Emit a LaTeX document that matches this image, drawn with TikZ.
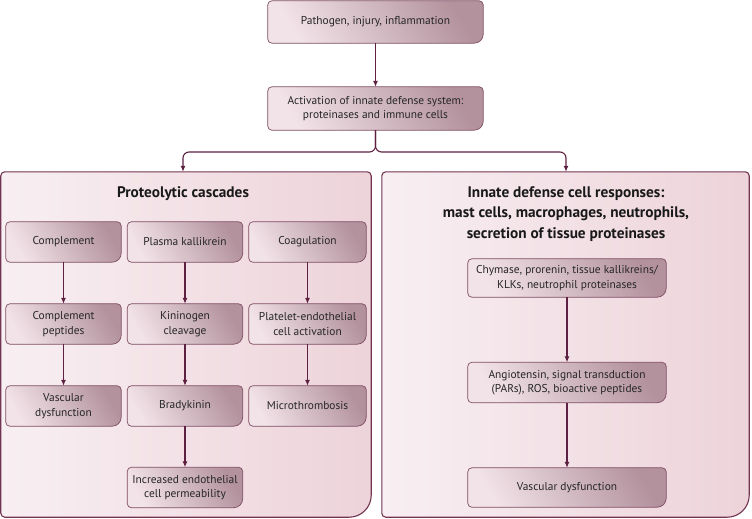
\documentclass[tikz,border=0pt]{standalone}
\usepackage{fontspec}
\setmainfont{PT Sans}
\usetikzlibrary{arrows.meta,calc,backgrounds}
\definecolor{edge}{HTML}{7E4C63}
\definecolor{panedge}{HTML}{733451}
\definecolor{arr}{HTML}{5E2040}
\definecolor{boxL}{HTML}{F2E3E8}
\definecolor{boxD}{HTML}{B3929D}
\definecolor{panL}{HTML}{F8EFF2}
\definecolor{panD}{HTML}{EDD3DA}

\newcommand\roundshape[4]{%
 \path[#4] ([xshift=#2]#1.north west) -- ([xshift=-#2]#1.north east)
   arc[start angle=90,end angle=0,radius=#2] -- ([yshift=#3]#1.south east)
   arc[start angle=0,end angle=-90,radius=#3] -- ([xshift=#2]#1.south west)
   arc[start angle=270,end angle=180,radius=#2] -- ([yshift=-#2]#1.north west)
   arc[start angle=180,end angle=90,radius=#2] -- cycle;}

\tikzset{
  boxnode/.style={inner sep=0pt, align=center, font=\fontsize{11.4}{14.5}\selectfont,
     minimum width=115pt, minimum height=40pt, text=black!85},
  panelnode/.style={inner sep=0pt, minimum width=#1, minimum height=345pt},
  boxfill/.style={draw=edge, line width=0.7pt, left color=boxL, right color=boxD, shading angle=120},
  panelfill/.style={draw=panedge, line width=1.1pt, left color=panL, right color=panD},
  flow/.style={draw=arr, line width=1.1pt, -{Latex[length=6pt,width=5pt]}},
  titletext/.style={align=center, font=\bfseries\fontsize{15.3}{20.5}\selectfont, text=black!90}
}

\begin{document}
\begin{tikzpicture}[x=1pt,y=1pt]
\useasboundingbox (0,0) rectangle (752,-519);

% panels
\node[panelnode=370pt] (LP) at (186,-344.5) {};
\node[panelnode=367pt] (RP) at (565.5,-344.5) {};
\node[titletext] (LT) at (183,-194) {Proteolytic cascades};
\node[titletext] (RT) at (566,-214) {Innate defense cell responses:\\mast cells, macrophages, neutrophils,\\secretion of tissue proteinases};

% top boxes
\node[boxnode, minimum width=215pt, minimum height=42pt] (path) at (375.5,-22) {Pathogen, injury, inflammation};
\node[boxnode, minimum width=215pt, minimum height=43pt] (act) at (375.5,-108.5) {Activation of innate defense system:\\proteinases and immune cells};

% left columns
\node[boxnode] (comp) at (63.5,-242) {Complement};
\node[boxnode] (pk) at (185,-242) {Plasma kallikrein};
\node[boxnode, minimum width=117pt] (coag) at (307.5,-242) {Coagulation};
\node[boxnode] (cpep) at (63.5,-324) {Complement\\peptides};
\node[boxnode] (kin) at (185,-324) {Kininogen\\cleavage};
\node[boxnode, minimum width=117pt] (plat) at (307.5,-324) {Platelet-endothelial\\cell activation};
\node[boxnode] (vd1) at (63.5,-406) {Vascular\\dysfunction};
\node[boxnode] (brad) at (185,-406) {Bradykinin};
\node[boxnode, minimum width=117pt] (micro) at (307.5,-406) {Microthrombosis};
\node[boxnode] (perm) at (185,-487.5) {Increased endothelial\\cell permeability};

% right column
\node[boxnode, minimum width=198pt, minimum height=38pt] (chy) at (567,-278) {Chymase, prorenin, tissue kallikreins/\\KLKs, neutrophil proteinases};
\node[boxnode, minimum width=198pt] (ang) at (567,-382.5) {Angiotensin, signal transduction\\(PARs), ROS, bioactive peptides};
\node[boxnode, minimum width=198pt, minimum height=39pt] (vd2) at (567,-487.5) {Vascular dysfunction};

\begin{scope}[on background layer]
  \roundshape{LP}{4pt}{22pt}{panelfill}
  \roundshape{RP}{4pt}{22pt}{panelfill}
  \foreach \n in {path,act,comp,pk,coag,cpep,kin,plat,vd1,brad,micro,perm,chy,ang,vd2}{
    \roundshape{\n}{4pt}{9pt}{boxfill}
  }
\end{scope}

% connectors
\coordinate (j) at (375.5,-152);
\draw[flow] (path) -- (act);
\draw[flow, rounded corners=6pt] (act.south) -- (j) -| (LP.north -| LT.center);
\draw[flow, rounded corners=6pt] (act.south) -- (j) -| (RP.north -| RT.center);
\draw[flow] (comp) -- (cpep);
\draw[flow] (cpep) -- (vd1);
\draw[flow] (pk) -- (kin);
\draw[flow] (kin) -- (brad);
\draw[flow] (brad) -- (perm);
\draw[flow] (coag) -- (plat);
\draw[flow] (plat) -- (micro);
\draw[flow] (chy) -- (ang);
\draw[flow] (ang) -- (vd2);
\end{tikzpicture}
\end{document}
